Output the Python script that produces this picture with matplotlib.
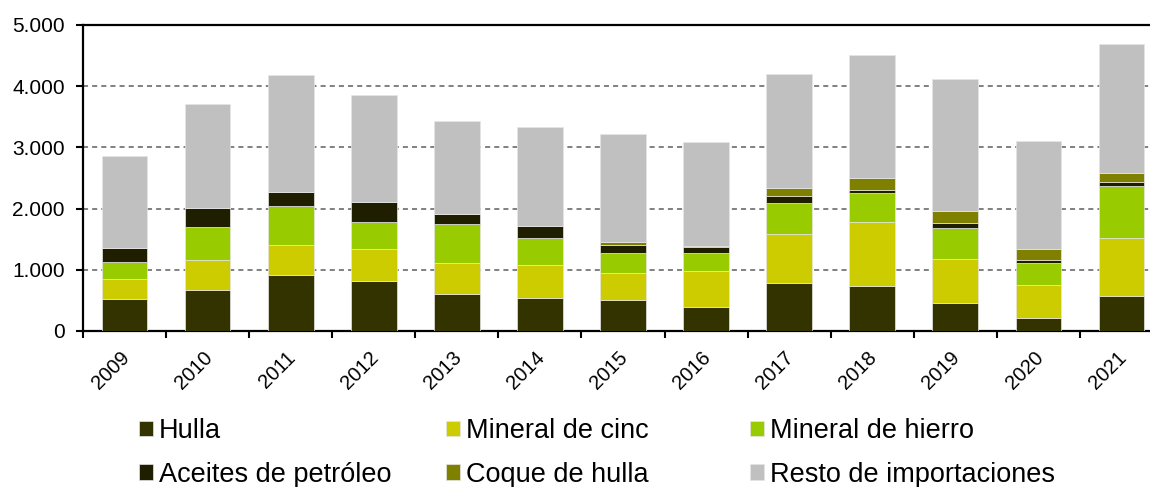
import matplotlib

matplotlib.use("Agg")
import matplotlib.pyplot as plt
import matplotlib.transforms as mtransforms
import numpy as np

plt.rcParams.update({"font.family": ["Liberation Sans", "DejaVu Sans"]})

years = ["2009", "2010", "2011", "2012", "2013", "2014", "2015",
         "2016", "2017", "2018", "2019", "2020", "2021"]

hulla = [523, 670, 915, 817, 610, 539, 507, 397, 784, 730, 452, 218, 577]
mineral_cinc = [332, 485, 485, 523, 501, 539, 446, 583, 801, 1046, 724, 534, 938]
mineral_hierro = [272, 544, 642, 446, 637, 437, 316, 300, 501, 479, 507, 359, 860]
aceites_petroleo = [229, 306, 234, 322, 158, 196, 141, 98, 114, 54, 82, 54, 65]
coque_hulla = [0, 0, 0, 0, 0, 10, 44, 11, 131, 191, 201, 175, 142]
resto = [1504, 1704, 1912, 1753, 1530, 1617, 1770, 1699, 1868, 2005, 2157, 1770, 2103]

series_names = ["Hulla", "Mineral de cinc", "Mineral de hierro",
                "Aceites de petróleo", "Coque de hulla", "Resto de importaciones"]
series_vals = [hulla, mineral_cinc, mineral_hierro, aceites_petroleo, coque_hulla, resto]
series_cols = ["#333300", "#CCCC00", "#99CC00", "#1F1F00", "#808000", "#C0C0C0"]

ytick_vals = [0, 1000, 2000, 3000, 4000, 5000]
ytick_labels = ["0", "1.000", "2.000", "3.000", "4.000", "5.000"]

W, H = 1150, 487
fig = plt.figure(figsize=(W / 100, H / 100), dpi=100)
# axes runs a bit past the right edge, as in the reference
ax = fig.add_axes([83 / W, 156 / H, 1080 / W, 306 / H])

x = np.arange(len(years))
bottom = np.zeros(len(years))
handles = []
for name, vals, col in zip(series_names, series_vals, series_cols):
    vals = np.array(vals, dtype=float)
    b = ax.bar(x, vals, width=0.55, bottom=bottom, color=col,
               edgecolor="#E6E6E6", linewidth=0.5, label=name, zorder=3)
    handles.append(b)
    bottom += vals

ax.set_xlim(-0.5, len(years) - 0.5)
ax.set_ylim(0, 5000)
ax.set_yticks(ytick_vals)
ax.set_yticklabels(ytick_labels, fontsize=15)
ax.set_xticks(x)
ax.set_xticklabels(years, fontsize=14.5, rotation=45, ha="right", va="top",
                   rotation_mode="anchor")
ax.tick_params(axis="x", which="major", length=0, pad=12)
shift = mtransforms.ScaledTranslation(-5 / 100, 0, fig.dpi_scale_trans)
for lbl in ax.get_xticklabels():
    lbl.set_transform(lbl.get_transform() + shift)
ax.set_xticks(np.arange(-0.5, len(years), 1.0), minor=True)
ax.tick_params(axis="x", which="minor", length=5, width=1.5, direction="out")
ax.tick_params(axis="y", length=5, width=1.5, direction="out", pad=8)

for yv in ytick_vals[1:-1]:
    ax.axhline(yv, color="#808080", lw=1.4, dashes=(2.6, 2.1), zorder=1)

for side in ["left", "bottom", "top"]:
    ax.spines[side].set_linewidth(1.6)
    ax.spines[side].set_color("black")
ax.spines["right"].set_visible(False)

# legend in three fixed columns, two rows each
cols = [(0, 3), (1, 4), (2, 5)]
col_x = [139, 446, 750]
for (i, j), cx in zip(cols, col_x):
    fig.legend([handles[i], handles[j]], [series_names[i], series_names[j]],
               loc="upper left", bbox_to_anchor=(cx / W, 1 - 418 / H),
               frameon=False, fontsize=19.5, handlelength=0.52,
               handleheight=0.52, handletextpad=0.22, labelspacing=0.66,
               borderaxespad=0, borderpad=0)

fig.savefig("out.png", dpi=100)
